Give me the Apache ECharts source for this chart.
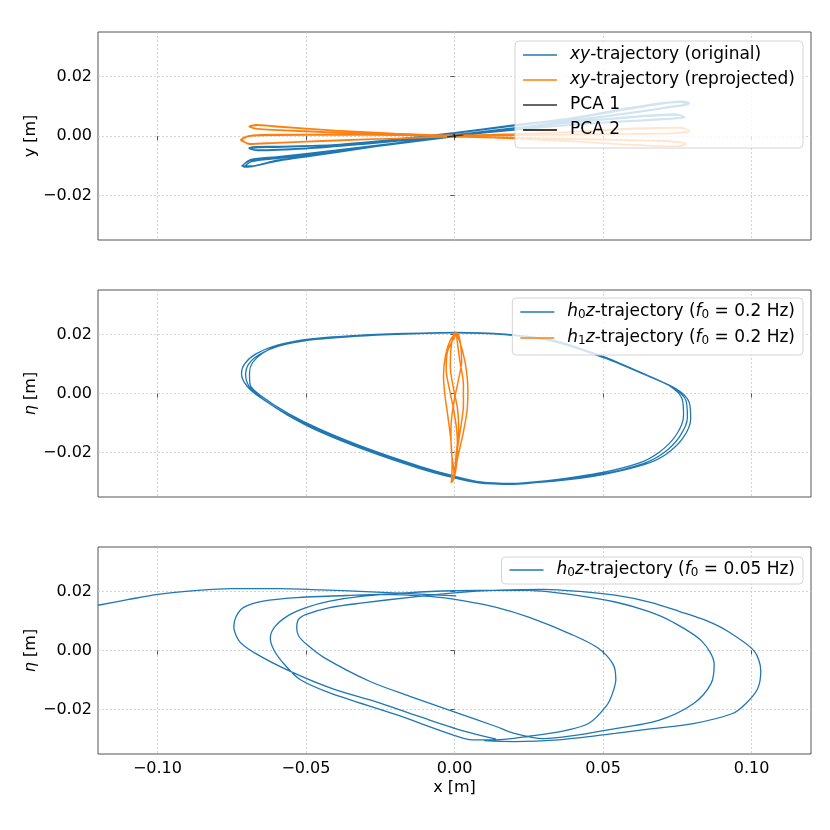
<!DOCTYPE html>
<html>
<head>
<meta charset="utf-8">
<script src="https://cdn.jsdelivr.net/npm/echarts@6/dist/echarts.min.js"></script>
<style>
html, body { margin: 0; padding: 0; background: #fff; }
#chart { width: 830px; height: 830px; }
</style>
</head>
<body>
<div id="chart"></div>
<script>
// axis ticks
const xTicks = [-0.10, -0.05, 0.00, 0.05, 0.10];
const yTicks = [-0.02, 0.00, 0.02];

// panel 1: xy trajectories (x, y) in m
const xyOrig = [
  [-0.0712,-0.0098],[-0.0685,-0.0079],[-0.0600,-0.0070],[-0.0400,-0.0048],[-0.0200,-0.0024],[0.0000,0.0000],[0.0200,0.0026],[0.0400,0.0054],[0.0600,0.0080],[0.0720,0.0097],
  [0.0790,0.0108],
  [0.0765,0.0115],[0.0600,0.0094],[0.0400,0.0060],[0.0200,0.0036],[0.0000,0.0010],[-0.0200,-0.0012],[-0.0400,-0.0030],[-0.0600,-0.0036],[-0.0665,-0.0037],
  [-0.0690,-0.0042],
  [-0.0665,-0.0047],[-0.0500,-0.0041],[-0.0300,-0.0026],[-0.0100,-0.0007],[0.0100,0.0012],[0.0300,0.0030],[0.0500,0.0045],[0.0700,0.0056],
  [0.0773,0.0064],
  [0.0745,0.0072],[0.0600,0.0064],[0.0400,0.0046],[0.0200,0.0026],[0.0000,0.0003],[-0.0200,-0.0024],[-0.0400,-0.0054],[-0.0600,-0.0082],[-0.0685,-0.0101],
  [-0.0716,-0.0101],[-0.0688,-0.0083],[-0.0600,-0.0073],[-0.0400,-0.0051],[-0.0200,-0.0026],[0.0000,-0.0001],[0.0200,0.0025],[0.0400,0.0052],[0.0600,0.0079],[0.0722,0.0099],
  [0.0792,0.0111],
  [0.0768,0.0117],[0.0600,0.0097],[0.0400,0.0062],[0.0200,0.0037],[0.0000,0.0011],[-0.0200,-0.0011],[-0.0400,-0.0029],[-0.0600,-0.0035],[-0.0668,-0.0036],
  [-0.0692,-0.0041],
  [-0.0668,-0.0048],[-0.0500,-0.0043],[-0.0300,-0.0027],[-0.0100,-0.0008],[0.0100,0.0011],[0.0300,0.0029],[0.0500,0.0044],[0.0702,0.0055],
  [0.0776,0.0062],
  [0.0748,0.0070],[0.0600,0.0062],[0.0400,0.0045],[0.0200,0.0025],[0.0000,0.0002],[-0.0200,-0.0026],[-0.0400,-0.0056],[-0.0600,-0.0085],[-0.0688,-0.0104],
  [-0.0710,-0.0105],[-0.0683,-0.0086],[-0.0600,-0.0076],[-0.0400,-0.0053],[-0.0200,-0.0027],[0.0000,-0.0002],[0.0200,0.0024],[0.0400,0.0050],[0.0600,0.0077],[0.0718,0.0095],
  [0.0786,0.0106],
  [0.0762,0.0113],[0.0600,0.0092],[0.0400,0.0058],[0.0200,0.0034],[0.0000,0.0009],[-0.0200,-0.0013],[-0.0400,-0.0031],[-0.0600,-0.0038],[-0.0662,-0.0039],
  [-0.0687,-0.0044],
  [-0.0663,-0.0049],[-0.0500,-0.0042],[-0.0300,-0.0025],[-0.0100,-0.0006],[0.0100,0.0013],[0.0300,0.0031],[0.0500,0.0046],[0.0698,0.0058],
  [0.0771,0.0066],
  [0.0742,0.0074],[0.0600,0.0066],[0.0400,0.0048],[0.0200,0.0027],[0.0000,0.0004]
];
const xyReproj = [
  [-0.0717,-0.0012],[-0.0682,0.0002],[-0.0600,0.0004],[-0.0400,0.0004],[-0.0200,0.0003],[0.0000,0.0002],[0.0200,0.0003],[0.0400,0.0005],[0.0600,0.0007],[0.0730,0.0009],
  [0.0790,0.0017],
  [0.0762,0.0028],[0.0600,0.0024],[0.0400,0.0014],[0.0200,0.0006],[0.0000,0.0002],[-0.0200,0.0008],[-0.0400,0.0018],[-0.0600,0.0032],[-0.0665,0.0037],
  [-0.0690,0.0031],
  [-0.0662,0.0024],[-0.0500,0.0017],[-0.0300,0.0008],[-0.0100,0.0001],[0.0100,-0.0004],[0.0300,-0.0008],[0.0500,-0.0012],[0.0705,-0.0017],
  [0.0779,-0.0026],
  [0.0750,-0.0035],[0.0600,-0.0030],[0.0400,-0.0018],[0.0200,-0.0008],[0.0000,-0.0002],[-0.0200,-0.0008],[-0.0400,-0.0014],[-0.0600,-0.0022],[-0.0688,-0.0026],
  [-0.0720,-0.0013],[-0.0685,0.0000],[-0.0600,0.0002],[-0.0400,0.0003],[-0.0200,0.0002],[0.0000,0.0001],[0.0200,0.0002],[0.0400,0.0004],[0.0600,0.0006],[0.0732,0.0008],
  [0.0792,0.0015],
  [0.0765,0.0029],[0.0600,0.0026],[0.0400,0.0015],[0.0200,0.0007],[0.0000,0.0003],[-0.0200,0.0009],[-0.0400,0.0019],[-0.0600,0.0033],[-0.0668,0.0038],
  [-0.0692,0.0032],
  [-0.0665,0.0025],[-0.0500,0.0016],[-0.0300,0.0007],[-0.0100,0.0000],[0.0100,-0.0005],[0.0300,-0.0009],[0.0500,-0.0013],[0.0708,-0.0018],
  [0.0781,-0.0027],
  [0.0752,-0.0036],[0.0600,-0.0031],[0.0400,-0.0019],[0.0200,-0.0009],[0.0000,-0.0003],[-0.0200,-0.0009],[-0.0400,-0.0016],[-0.0600,-0.0024],[-0.0690,-0.0028],
  [-0.0715,-0.0010],[-0.0680,0.0003],[-0.0600,0.0005],[-0.0400,0.0005],[-0.0200,0.0004],[0.0000,0.0003],[0.0200,0.0004],[0.0400,0.0006],[0.0600,0.0008],[0.0728,0.0010],
  [0.0788,0.0018],
  [0.0760,0.0027],[0.0600,0.0023],[0.0400,0.0013],[0.0200,0.0005],[0.0000,0.0001],[-0.0200,0.0007],[-0.0400,0.0017],[-0.0600,0.0031],[-0.0663,0.0036],
  [-0.0688,0.0030],
  [-0.0660,0.0023],[-0.0500,0.0015],[-0.0300,0.0007],[-0.0100,0.0001],[0.0100,-0.0003],[0.0300,-0.0007],[0.0500,-0.0011],[0.0702,-0.0016],
  [0.0777,-0.0025],
  [0.0748,-0.0034],[0.0600,-0.0029],[0.0400,-0.0017],[0.0200,-0.0007],[0.0000,-0.0001]
];
const pca1 = [[-0.0025,-0.0003],[0.0030,0.0004]];
const pca2 = [[0.0002,-0.0006],[-0.0002,0.0006]];

// panel 2: h0z loops and h1z trajectory (x, eta) in m
const h0zLoopA = [
  [0.0196,-0.0306],[0.0084,-0.0301],[-0.0006,-0.0281],[-0.0118,-0.0250],[-0.0286,-0.0193],[-0.0454,-0.0125],[-0.0566,-0.0069],[-0.0655,-0.0013],[-0.0700,0.0027],
  [-0.0717,0.0067],[-0.0706,0.0101],[-0.0667,0.0135],[-0.0599,0.0163],[-0.0499,0.0182],[-0.0342,0.0194],[-0.0174,0.0202],[-0.0006,0.0206],[0.0162,0.0200],[0.0330,0.0177],
  [0.0498,0.0123],[0.0633,0.0067],[0.0734,0.0021],[0.0779,-0.0024],[0.0784,-0.0080],[0.0756,-0.0148],[0.0700,-0.0204],[0.0633,-0.0238],[0.0498,-0.0272],[0.0330,-0.0295]
];
const h0zLoopB = [
  [0.0196,-0.0307],[0.0080,-0.0302],[-0.0010,-0.0283],[-0.0122,-0.0252],[-0.0290,-0.0195],[-0.0456,-0.0128],[-0.0562,-0.0073],[-0.0646,-0.0018],[-0.0690,0.0022],
  [-0.0703,0.0063],[-0.0694,0.0098],[-0.0657,0.0132],[-0.0592,0.0160],[-0.0494,0.0180],[-0.0338,0.0193],[-0.0170,0.0201],[0.0000,0.0205],[0.0168,0.0199],[0.0338,0.0175],
  [0.0505,0.0120],[0.0643,0.0063],[0.0746,0.0016],[0.0790,-0.0030],[0.0795,-0.0086],[0.0768,-0.0152],[0.0710,-0.0207],[0.0640,-0.0240],[0.0500,-0.0274],[0.0330,-0.0297]
];
const h0zLoopC = [
  [0.0194,-0.0304],[0.0088,-0.0299],[-0.0002,-0.0279],[-0.0114,-0.0247],[-0.0282,-0.0190],[-0.0450,-0.0122],[-0.0562,-0.0066],[-0.0648,-0.0010],[-0.0688,0.0030],
  [-0.0690,0.0070],[-0.0680,0.0104],[-0.0645,0.0137],[-0.0585,0.0165],[-0.0490,0.0184],[-0.0336,0.0196],[-0.0170,0.0203],[0.0004,0.0207],[0.0170,0.0201],[0.0335,0.0180],
  [0.0495,0.0127],[0.0625,0.0072],[0.0722,0.0027],[0.0766,-0.0018],[0.0771,-0.0074],[0.0745,-0.0142],[0.0690,-0.0198],[0.0625,-0.0234],[0.0494,-0.0268],[0.0328,-0.0293],
  [0.0200,-0.0305]
];
const h1z = [
  [0.0008,0.0206],
  [-0.0012,0.0185],[-0.0030,0.0130],[-0.0037,0.0060],[-0.0033,0.0000],[-0.0022,-0.0080],[-0.0012,-0.0160],[-0.0008,-0.0240],[-0.0010,-0.0295],
  [-0.0012,-0.0302],
  [0.0000,-0.0280],[0.0010,-0.0220],[0.0028,-0.0140],[0.0042,-0.0060],[0.0045,0.0010],[0.0040,0.0080],[0.0028,0.0140],[0.0012,0.0190],[0.0004,0.0207],
  [-0.0004,0.0195],[-0.0012,0.0150],[-0.0014,0.0090],[-0.0004,0.0020],[0.0010,-0.0050],[0.0014,-0.0120],[0.0006,-0.0200],[0.0000,-0.0270],[-0.0006,-0.0298],
  [-0.0002,-0.0270],[-0.0010,-0.0200],[-0.0012,-0.0120],[-0.0004,-0.0040],[0.0012,0.0040],[0.0024,0.0110],[0.0020,0.0170],[0.0010,0.0204],
  [0.0000,0.0190],[-0.0024,0.0140],[-0.0028,0.0080],[-0.0016,0.0010],[-0.0002,-0.0060],[0.0008,-0.0130],[0.0010,-0.0200],[0.0002,-0.0265],[-0.0008,-0.0300],
  [0.0000,-0.0262],[0.0008,-0.0200],[0.0020,-0.0120],[0.0030,-0.0040],[0.0030,0.0030],[0.0018,0.0110],[0.0010,0.0170],[0.0006,0.0205]
];

// panel 3: h0z trajectory with 0.05 Hz cut-off (x, eta) in m
const slowEdge = [
  [-0.1200,0.0153],[-0.1100,0.0172],[-0.0998,0.0190],[-0.0864,0.0203],[-0.0753,0.0209],[-0.0600,0.0209],[-0.0450,0.0205],[-0.0300,0.0199],[-0.0150,0.0192],[0.0006,0.0185]
];
const slowLoops = [
  [0.0140,-0.0300],[0.0029,-0.0272],[-0.0117,-0.0224],[-0.0263,-0.0174],[-0.0409,-0.0130],[-0.0556,-0.0069],[-0.0673,-0.0008],[-0.0724,0.0031],[-0.0743,0.0081],
  [-0.0735,0.0115],[-0.0711,0.0145],[-0.0644,0.0167],[-0.0532,0.0179],[-0.0363,0.0186],[-0.0252,0.0190],[-0.0084,0.0183],[0.0027,0.0169],[0.0141,0.0146],[0.0252,0.0112],
  [0.0395,0.0054],[0.0482,0.0009],[0.0534,-0.0047],[0.0543,-0.0098],
  [0.0530,-0.0150],[0.0510,-0.0189],[0.0454,-0.0245],[0.0364,-0.0273],[0.0252,-0.0290],[0.0140,-0.0302],[0.0060,-0.0302],
  [-0.0006,-0.0285],[-0.0196,-0.0217],[-0.0420,-0.0143],[-0.0520,-0.0098],[-0.0570,-0.0050],[-0.0607,0.0000],[-0.0620,0.0042],
  [-0.0605,0.0080],[-0.0560,0.0118],[-0.0500,0.0145],[-0.0420,0.0167],[-0.0308,0.0184],[-0.0150,0.0196],[0.0000,0.0202],[0.0150,0.0204],[0.0249,0.0203],
  [0.0400,0.0188],[0.0541,0.0164],[0.0650,0.0133],[0.0731,0.0098],[0.0833,0.0031],[0.0874,-0.0047],
  [0.0863,-0.0113],[0.0804,-0.0180],[0.0687,-0.0236],[0.0512,-0.0269],[0.0400,-0.0288],[0.0300,-0.0298],
  [0.0200,-0.0280],[0.0140,-0.0257],[-0.0006,-0.0206],[-0.0150,-0.0155],[-0.0286,-0.0104],[-0.0439,-0.0024],[-0.0497,0.0020],[-0.0525,0.0050],[-0.0531,0.0076],
  [-0.0525,0.0105],[-0.0499,0.0122],[-0.0420,0.0145],[-0.0308,0.0161],[-0.0150,0.0180],[0.0000,0.0195],[0.0150,0.0204],[0.0300,0.0207],[0.0420,0.0200],
  [0.0541,0.0187],[0.0660,0.0163],[0.0760,0.0131],[0.0850,0.0100],[0.0921,0.0064],[0.1009,-0.0002],[0.1031,-0.0069],
  [0.1020,-0.0130],[0.0980,-0.0180],[0.0936,-0.0213],[0.0804,-0.0247],[0.0660,-0.0265],[0.0541,-0.0280],[0.0350,-0.0302],[0.0200,-0.0308],[0.0100,-0.0305]
];

const BLUE = '#1f77b4', ORANGE = '#ff7f0e';
const FONT = 'DejaVu Sans';
const FS = 16;   // ticks and axis names
const LFS = 17;  // legend
const fmt = v => (v < 0 ? '\u2212' : '') + Math.abs(v).toFixed(2);

const nameRich = {
  it: { fontFamily: FONT, fontStyle: 'italic', fontSize: FS, color: '#000' }
};
const legendRich = {
  it: { fontFamily: FONT, fontStyle: 'italic', fontSize: LFS, color: '#000' },
  sub: { fontFamily: FONT, fontSize: 12, color: '#000', verticalAlign: 'bottom', padding: [6, 0, 0, 0] }
};
const legendText = {
  'xy-trajectory (original)': '{it|xy}-trajectory (original)',
  'xy-trajectory (reprojected)': '{it|xy}-trajectory (reprojected)',
  'PCA 1': 'PCA 1',
  'PCA 2': 'PCA 2',
  'h0z-trajectory (f0 = 0.2 Hz)': '{it|h}{sub|0}{it|z}-trajectory ({it|f}{sub|0} = 0.2 Hz)',
  'h1z-trajectory (f0 = 0.2 Hz)': '{it|h}{sub|1}{it|z}-trajectory ({it|f}{sub|0} = 0.2 Hz)',
  'h0z-trajectory (f0 = 0.05 Hz)': '{it|h}{sub|0}{it|z}-trajectory ({it|f}{sub|0} = 0.05 Hz)'
};

const tops = [32, 290, 547];
const heights = [208, 207, 207];
const grids = tops.map((t, i) => ({
  left: 98, top: t, width: 713, height: heights[i],
  show: true, borderColor: '#555', borderWidth: 1, backgroundColor: 'transparent',
  containLabel: false, outerBoundsMode: 'none'
}));

const xAxes = [0, 1, 2].map(i => ({
  type: 'value', gridIndex: i, min: -0.12, max: 0.12,
  name: i === 2 ? 'x [m]' : '', nameLocation: 'middle', nameGap: 26,
  nameTextStyle: { fontFamily: FONT, fontSize: FS, color: '#000' },
  axisLine: { show: false },
  axisTick: { show: true, inside: false, length: 4, customValues: xTicks, lineStyle: { color: '#555', width: 1 } },
  axisLabel: { show: i === 2, customValues: xTicks, formatter: fmt, margin: 7, fontFamily: FONT, fontSize: FS, color: '#000' },
  splitLine: { show: true, lineStyle: { color: '#c8c8c8', width: 0.8, type: [2, 2] } }
}));

const yNames = ['y [m]', '{it|\u03b7} [m]', '{it|\u03b7} [m]'];
const yAxes = [0, 1, 2].map(i => ({
  type: 'value', gridIndex: i, min: -0.035, max: 0.035,
  name: yNames[i], nameLocation: 'middle', nameGap: 59, nameRotate: 90, nameMoveOverlap: false,
  nameTextStyle: { fontFamily: FONT, fontSize: FS, color: '#000', rich: nameRich },
  axisLine: { show: false },
  axisTick: { show: true, inside: false, length: 4, customValues: yTicks, lineStyle: { color: '#555', width: 1 } },
  axisLabel: { show: true, customValues: yTicks, formatter: fmt, margin: 6, fontFamily: FONT, fontSize: FS, color: '#000' },
  splitLine: { show: true, lineStyle: { color: '#c8c8c8', width: 0.8, type: [2, 2] } }
}));

function legendBox(names, top, gap, pad) {
  return {
    data: names, orient: 'vertical', right: 27, top: top,
    icon: 'rect', itemWidth: 34, itemHeight: 1.6, itemGap: gap,
    padding: pad,
    backgroundColor: 'rgba(255,255,255,0.8)',
    borderColor: '#d4d4d4', borderWidth: 1, borderRadius: 4,
    selectedMode: false,
    formatter: n => legendText[n],
    textStyle: { fontFamily: FONT, fontSize: LFS, lineHeight: 18, color: '#000', padding: [0, 0, 0, 8], rich: legendRich }
  };
}

function line(name, data, color, gi, width) {
  return {
    type: 'line', name: name, data: data, xAxisIndex: gi, yAxisIndex: gi,
    symbol: 'none', smooth: 0.3, clip: true,
    lineStyle: { color: color, width: width || 1.3 },
    itemStyle: { color: color }
  };
}

const option = {
  animation: false,
  backgroundColor: '#fff',
  grid: grids,
  xAxis: xAxes,
  yAxis: yAxes,
  legend: [
    legendBox(['xy-trajectory (original)', 'xy-trajectory (reprojected)', 'PCA 1', 'PCA 2'], 41, 7, [5, 8, 9, 8]),
    legendBox(['h0z-trajectory (f0 = 0.2 Hz)', 'h1z-trajectory (f0 = 0.2 Hz)'], 298, 8, [5, 8, 8, 8]),
    legendBox(['h0z-trajectory (f0 = 0.05 Hz)'], 557, 8, [4, 8, 5, 8])
  ],
  series: [
    line('xy-trajectory (original)', xyOrig, BLUE, 0),
    line('xy-trajectory (reprojected)', xyReproj, ORANGE, 0),
    line('PCA 1', pca1, '#333', 0, 1.2),
    line('PCA 2', pca2, '#000', 0, 1.5),
    line('h0z-trajectory (f0 = 0.2 Hz)', h0zLoopA.concat(h0zLoopB, h0zLoopC), BLUE, 1),
    line('h1z-trajectory (f0 = 0.2 Hz)', h1z, ORANGE, 1, 1.5),
    line('h0z-trajectory (f0 = 0.05 Hz)', slowEdge, BLUE, 2),
    line('h0z-trajectory (f0 = 0.05 Hz)', slowLoops, BLUE, 2)
  ]
};

const chart = echarts.init(document.getElementById('chart'), null, { renderer: 'canvas' });
chart.setOption(option);
</script>
</body>
</html>
